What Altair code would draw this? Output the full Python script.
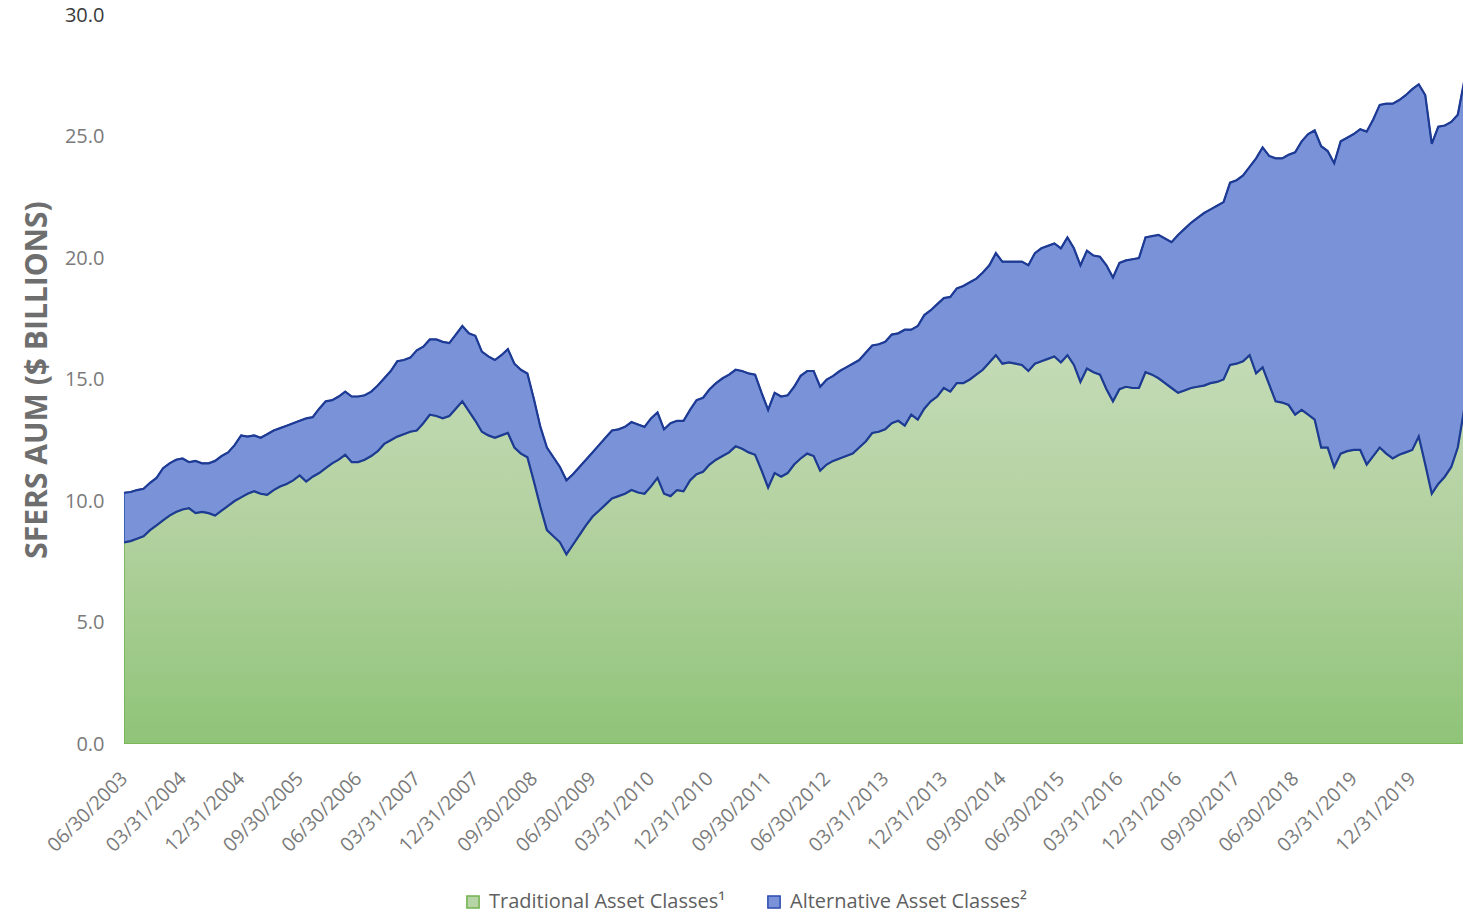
import json
import altair as alt
import pandas as pd

# ---------------- data ($ billions, month-end) ----------------
tick_labels = [
    "06/30/2003", "03/31/2004", "12/31/2004", "09/30/2005", "06/30/2006",
    "03/31/2007", "12/31/2007", "09/30/2008", "06/30/2009", "03/31/2010",
    "12/31/2010", "09/30/2011", "06/30/2012", "03/31/2013", "12/31/2013",
    "09/30/2014", "06/30/2015", "03/31/2016", "12/31/2016", "09/30/2017",
    "06/30/2018", "03/31/2019", "12/31/2019",
]

series_names = ["Traditional Asset Classes\u00b9", "Alternative Asset Classes\u00b2"]

# top of the green band (traditional asset classes)
traditional = [
    8.3, 8.35, 8.45, 8.55, 8.8, 9.0, 9.2, 9.4, 9.55, 9.65,
    9.7, 9.5, 9.55, 9.5, 9.4, 9.6, 9.8, 10.0, 10.15, 10.3,
    10.4, 10.3, 10.25, 10.45, 10.6, 10.7, 10.85, 11.05, 10.8, 11.0,
    11.15, 11.35, 11.55, 11.7, 11.9, 11.6, 11.6, 11.7, 11.85, 12.05,
    12.35, 12.5, 12.65, 12.75, 12.85, 12.9, 13.2, 13.55, 13.5, 13.4,
    13.5, 13.8, 14.1, 13.7, 13.3, 12.85, 12.7, 12.6, 12.7, 12.8,
    12.2, 11.95, 11.8, 10.8, 9.75, 8.8, 8.55, 8.3, 7.8, 8.2,
    8.6, 9.0, 9.35, 9.6, 9.85, 10.1, 10.2, 10.3, 10.45, 10.35,
    10.3, 10.6, 10.95, 10.3, 10.2, 10.45, 10.4, 10.85, 11.1, 11.2,
    11.5, 11.7, 11.85, 12.0, 12.25, 12.15, 12.0, 11.9, 11.25, 10.55,
    11.15, 11.0, 11.15, 11.5, 11.75, 11.95, 11.85, 11.25, 11.5, 11.65,
    11.75, 11.85, 11.95, 12.2, 12.45, 12.8, 12.85, 12.95, 13.2, 13.3,
    13.1, 13.55, 13.35, 13.8, 14.1, 14.3, 14.65, 14.5, 14.85, 14.85,
    15.0, 15.2, 15.4, 15.7, 16.0, 15.65, 15.7, 15.65, 15.6, 15.35,
    15.65, 15.75, 15.85, 15.95, 15.7, 16.0, 15.6, 14.9, 15.45, 15.3,
    15.2, 14.6, 14.1, 14.6, 14.7, 14.65, 14.65, 15.3, 15.2, 15.05,
    14.85, 14.65, 14.45, 14.55, 14.65, 14.7, 14.75, 14.85, 14.9, 15.0,
    15.6, 15.65, 15.75, 16.0, 15.25, 15.5, 14.8, 14.1, 14.05, 13.95,
    13.55, 13.75, 13.55, 13.35, 12.2, 12.2, 11.4, 11.95, 12.05, 12.1,
    12.1, 11.5, 11.85, 12.2, 11.95, 11.75, 11.9, 12.0, 12.1, 12.65,
    11.5, 10.3, 10.7, 11.0, 11.4, 12.2, 13.8,
]

# top of the blue band (traditional + alternative = total AUM)
total = [
    10.34, 10.37, 10.45, 10.5, 10.75, 10.95, 11.35, 11.55, 11.7, 11.75,
    11.6, 11.65, 11.55, 11.55, 11.65, 11.85, 12.0, 12.3, 12.7, 12.65,
    12.7, 12.6, 12.75, 12.9, 13.0, 13.1, 13.2, 13.3, 13.4, 13.45,
    13.8, 14.1, 14.15, 14.3, 14.5, 14.3, 14.3, 14.35, 14.5, 14.75,
    15.05, 15.35, 15.75, 15.8, 15.9, 16.2, 16.35, 16.65, 16.65, 16.55,
    16.5, 16.85, 17.2, 16.9, 16.8, 16.15, 15.95, 15.8, 16.0, 16.25,
    15.65, 15.4, 15.25, 14.2, 13.05, 12.2, 11.8, 11.4, 10.85, 11.1,
    11.4, 11.7, 12.0, 12.3, 12.6, 12.9, 12.95, 13.05, 13.25, 13.15,
    13.05, 13.4, 13.65, 12.95, 13.2, 13.3, 13.3, 13.75, 14.15, 14.25,
    14.6, 14.85, 15.05, 15.2, 15.4, 15.35, 15.25, 15.2, 14.45, 13.75,
    14.45, 14.3, 14.35, 14.7, 15.15, 15.35, 15.35, 14.7, 15.0, 15.15,
    15.35, 15.5, 15.65, 15.8, 16.1, 16.4, 16.45, 16.55, 16.85, 16.9,
    17.05, 17.05, 17.2, 17.65, 17.85, 18.1, 18.35, 18.4, 18.75, 18.85,
    19.0, 19.15, 19.4, 19.7, 20.2, 19.85, 19.85, 19.85, 19.85, 19.7,
    20.2, 20.4, 20.5, 20.6, 20.4, 20.85, 20.4, 19.7, 20.3, 20.1,
    20.05, 19.7, 19.2, 19.8, 19.9, 19.95, 20.0, 20.85, 20.9, 20.95,
    20.8, 20.65, 20.95, 21.2, 21.45, 21.65, 21.85, 22.0, 22.15, 22.3,
    23.1, 23.2, 23.4, 23.75, 24.1, 24.55, 24.2, 24.1, 24.1, 24.25,
    24.35, 24.8, 25.1, 25.25, 24.6, 24.4, 23.9, 24.8, 24.95, 25.1,
    25.3, 25.2, 25.7, 26.3, 26.35, 26.35, 26.5, 26.7, 26.95, 27.15,
    26.7, 24.7, 25.4, 25.45, 25.6, 25.9, 27.3,
]

y_ticks = [0, 5, 10, 15, 20, 25, 30]

# ---------------- tables ----------------
n = len(total)
months = list(range(n))
wide = pd.DataFrame({"m": months, "trad": traditional, "total": total})
long = pd.concat([
    pd.DataFrame({"m": months, "lo": [0.0] * n, "hi": traditional, "series": series_names[0]}),
    pd.DataFrame({"m": months, "lo": traditional, "hi": total, "series": series_names[1]}),
], ignore_index=True)

FONT = "Open Sans"
GREY = "#6e6e6e"
NAVY = "#1d3a94"
BLUE = "#7a92d8"
GREEN_EDGE = "#74b24f"

x_scale = alt.Scale(domain=[0, 205.8], nice=False, zero=False)
y_scale = alt.Scale(domain=[0, 30], nice=False)

label_expr = json.dumps(tick_labels) + "[round(datum.value / 9)]"
x_axis = alt.Axis(
    values=[9 * i for i in range(len(tick_labels))],
    labelExpr=label_expr,
    labelAngle=-45,
    labelAlign="right",
    labelBaseline="middle",
    labelPadding=31,
    labelFont=FONT,
    labelFontSize=19.5,
    labelColor="#7a7a7a",
    labelFlush=False,
    labelOverlap=False,
    ticks=False,
    domain=False,
    grid=False,
)
y_axis = alt.Axis(
    values=y_ticks,
    format=".1f",
    labelPadding=20,
    labelFont=FONT,
    labelFontSize=20,
    labelColor={"condition": {"test": "datum.value == 30", "value": "#3a3a3a"}, "value": "#7a7a7a"},
    titleFont=FONT,
    titleFontSize=30,
    titleFontWeight="bold",
    titleColor=GREY,
    titlePadding=12,
    ticks=False,
    domain=False,
    grid=False,
)
Y_TITLE = "SFERS AUM ($ BILLIONS)"

legend = alt.Legend(
    title=None,
    orient="none",
    legendX=339,
    legendY=877,
    direction="horizontal",
    symbolType="square",
    symbolSize=150,
    symbolStrokeWidth=1.5,
    labelFont=FONT,
    labelFontSize=20,
    labelColor="#5f5f5f",
    labelOffset=6,
    labelLimit=400,
    columnPadding=38,
)

base_area = alt.Chart(long).mark_area(clip=True, strokeWidth=1.5).encode(
    x=alt.X("m:Q", scale=x_scale, axis=x_axis, title=None),
    y=alt.Y("hi:Q", scale=y_scale, axis=y_axis, title=Y_TITLE),
    y2="lo:Q",
    color=alt.Color("series:N", scale=alt.Scale(domain=series_names, range=["#b7d4a7", BLUE]), legend=legend),
    stroke=alt.Stroke("series:N", scale=alt.Scale(domain=series_names, range=[GREEN_EDGE, "#2c4cae"]), legend=legend),
)

green_gradient = alt.Gradient(
    gradient="linear",
    stops=[
        alt.GradientStop(color="#c4dbb6", offset=0),
        alt.GradientStop(color="#b2d19f", offset=0.45),
        alt.GradientStop(color="#8fc478", offset=1),
    ],
    x1=0, x2=0, y1=0, y2=1,
)

green_area = alt.Chart(wide).mark_area(
    clip=True, fill=green_gradient, stroke=GREEN_EDGE, strokeWidth=1.5
).encode(
    x=alt.X("m:Q", scale=x_scale, axis=x_axis, title=None),
    y=alt.Y("trad:Q", scale=y_scale, axis=y_axis, title=Y_TITLE),
    y2=alt.Y2(datum=0),
)

line_total = alt.Chart(wide).mark_line(clip=True, color=NAVY, strokeWidth=2.2).encode(
    x=alt.X("m:Q", scale=x_scale, axis=x_axis, title=None),
    y=alt.Y("total:Q", scale=y_scale, axis=y_axis, title=Y_TITLE),
)
line_trad = alt.Chart(wide).mark_line(clip=True, color=NAVY, strokeWidth=2.2).encode(
    x=alt.X("m:Q", scale=x_scale, axis=x_axis, title=None),
    y=alt.Y("trad:Q", scale=y_scale, axis=y_axis, title=Y_TITLE),
)

chart = alt.layer(base_area, green_area, line_total, line_trad).properties(
    width=1339,
    height=729,
    autosize=alt.AutoSizeParams(type="none"),
    padding={"left": 124, "top": 15, "right": 0, "bottom": 169},
    background="white",
).configure_view(stroke=None)

chart.save("out.html", embed_options={"renderer": "svg", "actions": False})
